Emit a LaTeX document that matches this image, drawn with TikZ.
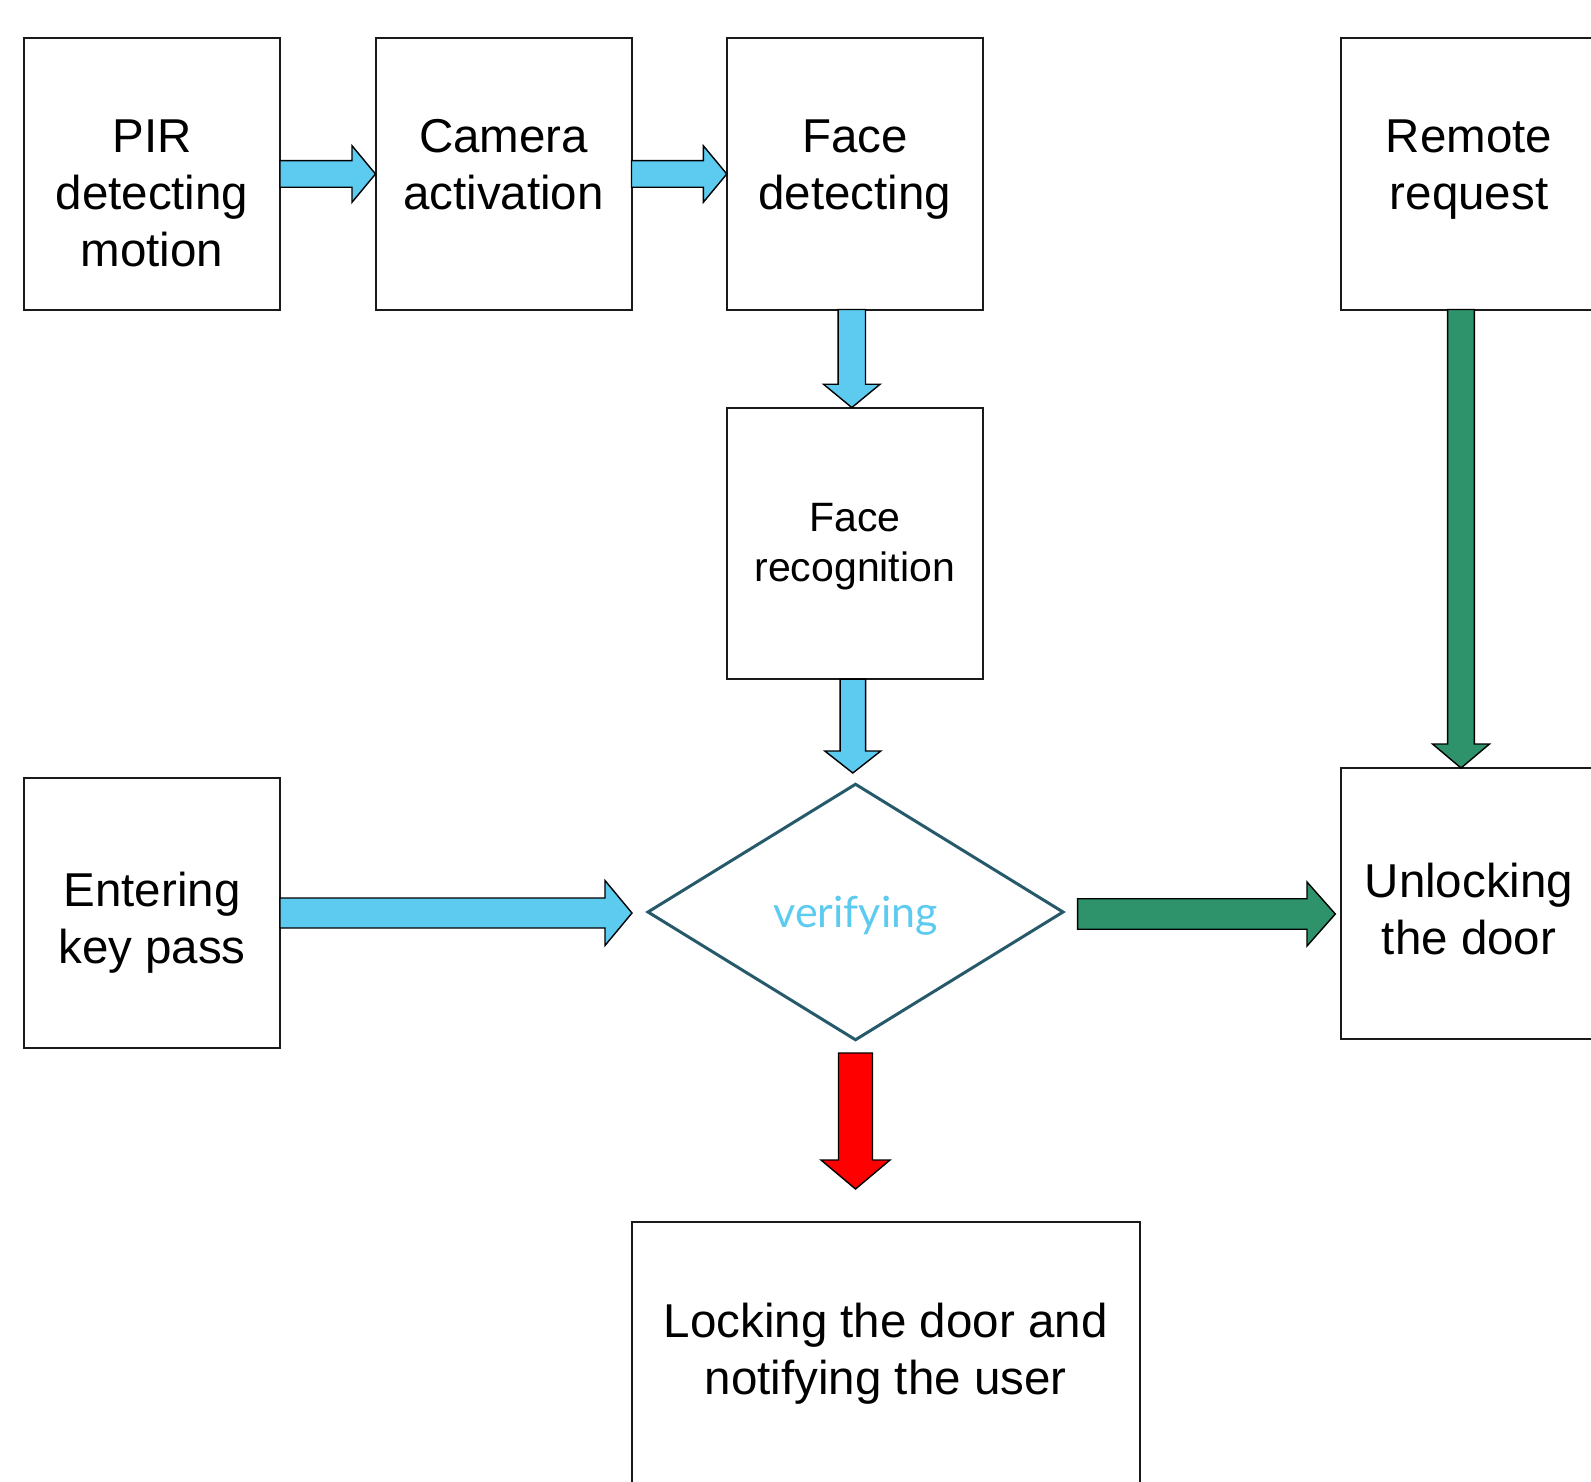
\documentclass[tikz,border=0pt]{standalone}
\usepackage{fontspec}
\setmainfont{Liberation Sans}
\newfontfamily\latofont{Lato}
\usetikzlibrary{shapes.geometric,calc}

\definecolor{skyfill}{HTML}{5DCBF0}
\definecolor{greenfill}{HTML}{2E936B}
\definecolor{redfill}{HTML}{FF0000}
\definecolor{diaedge}{HTML}{265A6A}
\definecolor{boxedge}{HTML}{1A1A1A}

\tikzset{
  stepbox/.style={draw=boxedge, line width=2bp, minimum width=256bp,
    minimum height=271bp, inner sep=0pt, outer sep=0pt},
  lbl/.style={font=\fontsize{47.5bp}{57bp}\selectfont, align=center,
    inner sep=0pt, anchor=base},
  smalllbl/.style={lbl, font=\fontsize{41bp}{50bp}\selectfont},
  blockarrow/.style={draw=black, line width=1.4bp, line join=miter},
  skyarrow/.style={blockarrow, fill=skyfill},
  greenarrow/.style={blockarrow, fill=greenfill},
  redarrow/.style={blockarrow, fill=redfill},
}

% block arrow pointing right: style, start, tip, shaft half-width, head half-width, head length
\newcommand\hblock[6]{%
  \filldraw[#1] let \p1=#2, \p2=#3 in
    (\x1,\y1+#4bp) -- (\x2-#6bp,\y1+#4bp) -- (\x2-#6bp,\y1+#5bp) -- (\x2,\y1)
    -- (\x2-#6bp,\y1-#5bp) -- (\x2-#6bp,\y1-#4bp) -- (\x1,\y1-#4bp) -- cycle;}
% block arrow pointing down: style, start, tip, shaft half-width, head half-width, head length
\newcommand\vblock[6]{%
  \filldraw[#1] let \p1=#2, \p2=#3 in
    (\x1-#4bp,\y1) -- (\x1-#4bp,\y2+#6bp) -- (\x1-#5bp,\y2+#6bp) -- (\x1,\y2)
    -- (\x1+#5bp,\y2+#6bp) -- (\x1+#4bp,\y2+#6bp) -- (\x1+#4bp,\y1) -- cycle;}

\begin{document}
\begin{tikzpicture}[x=1bp, y=-1bp]
  \useasboundingbox (0,0) rectangle (1591,1482);
  \fill[white] (0,0) rectangle (1591,1482);
  \clip (0,0) rectangle (1591,1482);

  % process boxes
  \node[stepbox] (pir)  at (152,174) {};
  \node[stepbox] (cam)  at (503.5,174) {};
  \node[stepbox] (fdet) at (854.8,174) {};
  \node[stepbox] (rem)  at (1469,174) {};
  \node[stepbox, minimum height=271.5bp] (frec) at (854.8,543.3) {};
  \node[stepbox, minimum height=270bp] (ekp) at (152,913) {};
  \node[stepbox] (unl)  at (1469,903.5) {};
  \node[stepbox, minimum width=507.5bp, minimum height=330bp] (lock) at (885.75,1387) {};

  % decision
  \node[diamond, draw=diaedge, line width=3bp, minimum width=415bp,
        minimum height=255.5bp, inner sep=0pt, outer sep=0pt, aspect=1.62,
        font=\latofont\fontsize{43bp}{50bp}\selectfont, text=skyfill,
        text depth=0pt] (dia) at (855.5,912) {verifying};

  % labels (anchored at the baseline of their last line)
  \node[lbl] (pirT)  at ([yshift=-228bp]pir.north)  {PIR\\detecting\\motion};
  \node[lbl] (camT)  at ([yshift=-171bp]cam.north)  {Camera\\activation};
  \node[lbl] (fdetT) at ([yshift=-171bp]fdet.north) {Face\\detecting};
  \node[lbl] (remT)  at ([yshift=-171bp]rem.north)  {Remote\\request};
  \node[smalllbl] (frecT) at ([yshift=-174bp]frec.north) {Face\\recognition};
  \node[lbl] (ekpT)  at ([yshift=-185bp]ekp.north)  {Entering\\key pass};
  \node[lbl] (unlT)  at ([yshift=-186bp]unl.north)  {Unlocking\\the door};
  \node[lbl] (lockT) at ([yshift=-172bp]lock.north) {Locking the door and\\notifying the user};

  % connectors
  \hblock{skyarrow}{(pir.east)}{(cam.west)}{13.3}{28.3}{23.5}
  \hblock{skyarrow}{(cam.east)}{(fdet.west)}{13.3}{28.3}{23.5}
  \vblock{skyarrow}{([xshift=-3bp]fdet.south)}{(frec.north)}{13.7}{28.3}{23.3}
  \vblock{skyarrow}{([xshift=-2bp]frec.south)}{([yshift=11.25bp]dia.north)}{12.75}{28}{22}
  \hblock{skyarrow}{(ekp.east)}{([xshift=-16bp]dia.west)}{15}{32.5}{27}
  \hblock{greenarrow}{([xshift=14.6bp,yshift=-2bp]dia.east)}{([xshift=-5.7bp]unl.west)}{15.25}{32}{28.3}
  \vblock{greenarrow}{([xshift=-8bp]rem.south)}{(unl.north)}{13.4}{28.5}{24}
  \vblock{redarrow}{([yshift=-13.25bp]dia.south)}{([yshift=33bp]lock.north)}{17}{34.5}{29}
\end{tikzpicture}
\end{document}
